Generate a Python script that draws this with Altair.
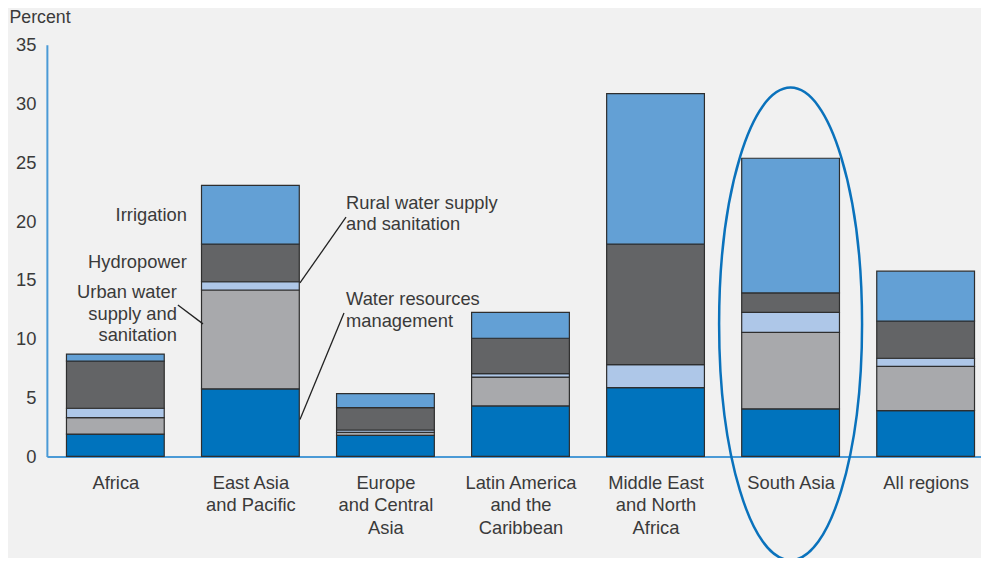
import json
import altair as alt
import pandas as pd

# ---- data -------------------------------------------------------------
regions = ["Africa", "East Asia|and Pacific", "Europe|and Central|Asia",
           "Latin America|and the|Caribbean", "Middle East|and North|Africa",
           "South Asia", "All regions"]
components = ["Water resources management", "Urban water supply and sanitation",
              "Rural water supply and sanitation", "Hydropower", "Irrigation"]
wrm = [1.9, 5.75, 1.8, 4.3, 5.85, 4.05, 3.9]
urban = [1.4, 8.4, 0.25, 2.45, 0.0, 6.5, 3.75]
rural = [0.8, 0.7, 0.2, 0.3, 1.95, 1.7, 0.7]
hydro = [4.0, 3.2, 1.9, 3.0, 10.25, 1.65, 3.15]
irrigation = [0.6, 5.0, 1.2, 2.2, 12.8, 11.45, 4.25]
colors = ["#0073bd", "#a8a9ac", "#aec7e8", "#636466", "#63a0d5"]
y_ticks = [0, 5, 10, 15, 20, 25, 30, 35]

# annotations (x in region-index units, y in percent)
ann_right_text = ["Irrigation", "Hydropower", "Urban water\nsupply and\nsanitation"]
ann_right_x = [0.53, 0.53, 0.456]
ann_right_y = [20.5, 16.5, 13.95]
ann_left_text = ["Rural water supply\nand sanitation", "Water resources\nmanagement"]
ann_left_x = [1.708, 1.708]
ann_left_y = [21.55, 13.35]
leader_x = [0.463, 1.367, 1.367]
leader_y = [12.88, 14.75, 3.14]
leader_x2 = [0.649, 1.708, 1.693]
leader_y2 = [11.27, 20.34, 12.2]
highlight_x = [5]
highlight_y = [11.27]

# ---- build tables -----------------------------------------------------
series = [wrm, urban, rural, hydro, irrigation]
half = 0.362
rows = []
for i, _ in enumerate(regions):
    cum = 0.0
    for k, comp in enumerate(components):
        v = series[k][i]
        if v > 0:
            rows.append({"x0": i - half, "x1": i + half, "y0": cum,
                         "y1": cum + v, "comp": comp})
        cum += v
bars_df = pd.DataFrame(rows)

font = "Liberation Sans"
txt_color = "#3a3a3a"
axis_blue = "#4a9ad6"
fs = 18.4

xscale = alt.Scale(domain=[-0.507, 6.41], nice=False, zero=False)
yscale = alt.Scale(domain=[0, 35], nice=False)

label_expr = "split(" + json.dumps(regions) + "[datum.value], '|')"

xaxis = alt.Axis(values=list(range(len(regions))), labelExpr=label_expr,
                 ticks=False, grid=False, domainColor=axis_blue, domainWidth=2,
                 labelFont=font, labelFontSize=fs, labelColor=txt_color,
                 labelPadding=17, labelLineHeight=22.5, labelFlush=False,
                 labelOverlap=False, title=None)
yaxis = alt.Axis(values=y_ticks, ticks=False, grid=False, domainColor=axis_blue,
                 domainWidth=2, labelFont=font, labelFontSize=fs,
                 labelColor=txt_color, labelPadding=11, title="Percent",
                 titleAngle=0, titleAlign="left", titleBaseline="middle",
                 titleX=-38, titleY=-27, titleFont=font, titleFontSize=17.8,
                 titleFontWeight="normal", titleColor=txt_color)

bars = alt.Chart(bars_df).mark_bar(stroke="#2e2e2e", strokeWidth=1.2).encode(
    x=alt.X("x0:Q", scale=xscale, axis=xaxis),
    x2="x1:Q",
    y=alt.Y("y0:Q", scale=yscale, axis=yaxis),
    y2="y1:Q",
    color=alt.Color("comp:N", scale=alt.Scale(domain=components, range=colors),
                    legend=None),
)

ann_r = pd.DataFrame({"t": ann_right_text, "x": ann_right_x, "y": ann_right_y})
ann_l = pd.DataFrame({"t": ann_left_text, "x": ann_left_x, "y": ann_left_y})
lead = pd.DataFrame({"x": leader_x, "y": leader_y, "x2": leader_x2, "y2": leader_y2})
hl = pd.DataFrame({"x": highlight_x, "y": highlight_y})

text_r = alt.Chart(ann_r).mark_text(align="right", baseline="middle", font=font,
                                    fontSize=fs, color=txt_color, lineBreak="\n",
                                    lineHeight=21.5).encode(
    x=alt.X("x:Q", scale=xscale), y=alt.Y("y:Q", scale=yscale), text="t:N")
text_l = alt.Chart(ann_l).mark_text(align="left", baseline="middle", font=font,
                                    fontSize=fs, color=txt_color, lineBreak="\n",
                                    lineHeight=21.5).encode(
    x=alt.X("x:Q", scale=xscale), y=alt.Y("y:Q", scale=yscale), text="t:N")
rules = alt.Chart(lead).mark_rule(color="#222222", strokeWidth=1.3).encode(
    x=alt.X("x:Q", scale=xscale), y=alt.Y("y:Q", scale=yscale),
    x2="x2:Q", y2="y2:Q")
ellipse_path = "M 0 -1 A 0.3025 1 0 0 1 0 1 A 0.3025 1 0 0 1 0 -1 Z"
ellipse = alt.Chart(hl).mark_point(shape=ellipse_path, size=224676, filled=False,
                                   stroke="#0a72bc", strokeWidth=2.5, opacity=1).encode(
    x=alt.X("x:Q", scale=xscale), y=alt.Y("y:Q", scale=yscale))

chart = alt.layer(bars, rules, text_r, text_l, ellipse).properties(
    width=937, height=413,
    autosize=alt.AutoSizeParams(type="none"),
    padding={"left": 39, "top": 36, "right": 0, "bottom": 101},
    background="#f1f1f1",
).configure_view(stroke=None)

chart.save("out.html", embed_options={"renderer": "svg", "actions": False})
